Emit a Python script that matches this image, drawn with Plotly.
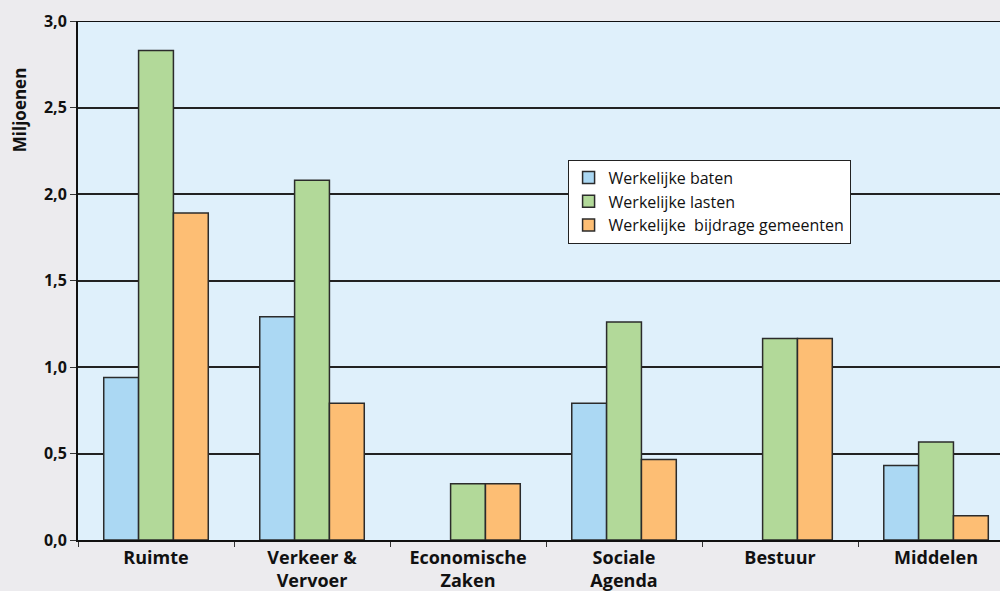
import plotly.graph_objects as go

categories = ["Ruimte", "Verkeer &<br>Vervoer", "Economische<br>Zaken", "Sociale<br>Agenda", "Bestuur", "Middelen"]
baten = [0.94, 1.29, None, 0.79, None, 0.43]
lasten = [2.83, 2.08, 0.325, 1.26, 1.165, 0.567]
bijdrage = [1.89, 0.79, 0.325, 0.465, 1.165, 0.14]
series_names = ["Werkelijke baten", "Werkelijke lasten", "Werkelijke  bijdrage gemeenten"]
colors = ["#abd8f3", "#b2d999", "#fdbe74"]
y_ticks = [0, 0.5, 1.0, 1.5, 2.0, 2.5, 3.0]
y_tick_labels = ["0,0", "0,5", "1,0", "1,5", "2,0", "2,5", "3,0"]

fig = go.Figure()
for name, vals, col in zip(series_names, [baten, lasten, bijdrage], colors):
    fig.add_trace(go.Bar(
        x=categories, y=vals, name=name,
        marker=dict(color=col, line=dict(color="#2b2b2b", width=1.5)),
    ))

fig.update_layout(
    width=1000, height=591,
    margin=dict(l=78, r=0, t=21, b=51),
    paper_bgcolor="#ecebee",
    plot_bgcolor="#dff0fb",
    barmode="group",
    bargap=0.33,
    bargroupgap=0,
    font=dict(family="Open Sans, sans-serif", color="#111"),
    legend=dict(
        x=0.531, y=0.733, xanchor="left", yanchor="top",
        bgcolor="white", bordercolor="#222", borderwidth=1,
        font=dict(size=16, family="Open Sans, sans-serif", color="#111"),
        tracegroupgap=0, itemwidth=30,
    ),
    showlegend=True,
)
fig.update_xaxes(
    range=[-0.5, 5.41],
    showline=True, linecolor="#111", linewidth=2,
    ticks="outside", tickson="boundaries", ticklen=5, tickcolor="#333",
    tickfont=dict(size=18, family="Open Sans, sans-serif", color="#111", weight="bold"),
    showgrid=False,
)
fig.update_yaxes(
    range=[0, 3.0],
    tickvals=y_ticks, ticktext=y_tick_labels,
    showline=True, linecolor="#111", linewidth=2,
    ticks="outside", ticklen=6, tickcolor="#333",
    tickfont=dict(size=16, family="Open Sans, sans-serif", color="#111", weight="bold"),
    showgrid=True, gridcolor="#222", gridwidth=2,
    zeroline=False,
)
fig.add_shape(type="line", xref="paper", yref="y", x0=0, x1=1, y0=3.0, y1=3.0,
              line=dict(color="#111", width=2))
fig.add_annotation(
    text="<b>Miljoenen</b>", textangle=-90, xref="paper", yref="paper",
    x=-0.064, y=0.83, xanchor="center", yanchor="middle", showarrow=False,
    font=dict(size=17, family="Open Sans, sans-serif", color="#111"),
)

fig.write_html("out.html", config={"displayModeBar": False},
               post_script="document.body.style.margin='0';document.body.style.overflow='hidden';")
